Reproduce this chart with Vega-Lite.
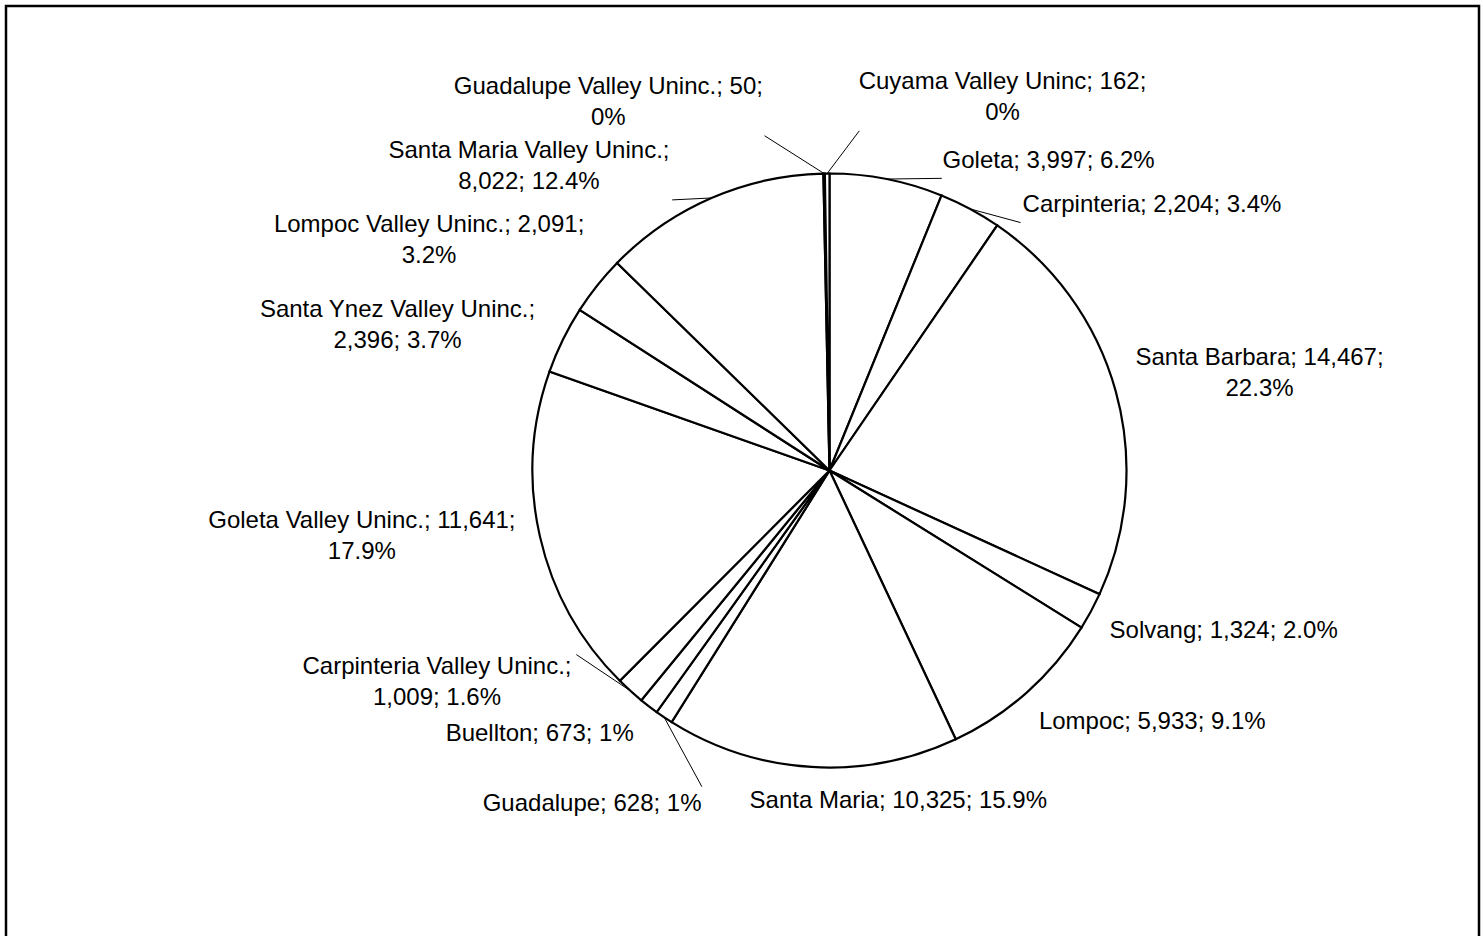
{
  "$schema": "https://vega.github.io/schema/vega-lite/v6.json",
  "autosize": "none",
  "width": 1473,
  "height": 936,
  "padding": {"left": 6, "top": 6, "right": 4, "bottom": -6},
  "background": "white",
  "config": {"view": {"stroke": "black", "strokeWidth": 2.5}},
  "data": {
    "values": [
      {"idx": 1, "name": "Goleta", "value": 3997, "label": "Goleta; 3,997; 6.2%"},
      {"idx": 2, "name": "Carpinteria", "value": 2204, "label": "Carpinteria; 2,204; 3.4%"},
      {"idx": 3, "name": "Santa Barbara", "value": 14467, "label": "Santa Barbara; 14,467;\n22.3%"},
      {"idx": 4, "name": "Solvang", "value": 1324, "label": "Solvang; 1,324; 2.0%"},
      {"idx": 5, "name": "Lompoc", "value": 5933, "label": "Lompoc; 5,933; 9.1%"},
      {"idx": 6, "name": "Santa Maria", "value": 10325, "label": "Santa Maria; 10,325; 15.9%"},
      {"idx": 7, "name": "Guadalupe", "value": 628, "label": "Guadalupe; 628; 1%"},
      {"idx": 8, "name": "Buellton", "value": 673, "label": "Buellton; 673; 1%"},
      {"idx": 9, "name": "Carpinteria Valley Uninc.", "value": 1009, "label": "Carpinteria Valley Uninc.;\n1,009; 1.6%"},
      {"idx": 10, "name": "Goleta Valley Uninc.", "value": 11641, "label": "Goleta Valley Uninc.; 11,641;\n17.9%"},
      {"idx": 11, "name": "Santa Ynez Valley Uninc.", "value": 2396, "label": "Santa Ynez Valley Uninc.;\n2,396; 3.7%"},
      {"idx": 12, "name": "Lompoc Valley Uninc.", "value": 2091, "label": "Lompoc Valley Uninc.; 2,091;\n3.2%"},
      {"idx": 13, "name": "Santa Maria Valley Uninc.", "value": 8022, "label": "Santa Maria Valley Uninc.;\n8,022; 12.4%"},
      {"idx": 14, "name": "Guadalupe Valley Uninc.", "value": 50, "label": "Guadalupe Valley Uninc.; 50;\n0%"},
      {"idx": 15, "name": "Cuyama Valley Uninc", "value": 162, "label": "Cuyama Valley Uninc; 162;\n0%"}
    ]
  },
  "transform": [
    {"window": [{"op": "sum", "field": "value", "as": "cum"}], "sort": [{"field": "idx"}], "frame": [null, 0]},
    {"joinaggregate": [{"op": "sum", "field": "value", "as": "total"}]},
    {"calculate": "(datum.cum - datum.value / 2) / datum.total * 360", "as": "mid"},
    {"calculate": "datum.value / datum.total", "as": "frac"},
    {"calculate": "datum.mid > 270 ? datum.mid - 360 : datum.mid", "as": "m"},
    {"window": [{"op": "row_number", "as": "rn"}], "sort": [{"field": "m"}]},
    {"calculate": "datum.m - 16 * datum.rn", "as": "u"},
    {"window": [{"op": "max", "field": "u", "as": "fmax"}], "sort": [{"field": "m"}], "frame": [null, 0]},
    {"window": [{"op": "min", "field": "u", "as": "bmin"}], "sort": [{"field": "m"}], "frame": [0, null]},
    {"calculate": "(datum.fmax + datum.bmin) / 2 + 16 * datum.rn", "as": "la"},
    {"calculate": "datum.frac < 0.01 ? 345 : 317", "as": "R"},
    {"calculate": "sin(datum.la * PI / 180)", "as": "sa"},
    {"calculate": "cos(datum.la * PI / 180)", "as": "ca"},
    {"calculate": "split(datum.label, '\\n')[0]", "as": "line1"},
    {"calculate": "length(split(datum.label, '\\n'))", "as": "nl"},
    {"calculate": "length(datum.line1)", "as": "n"},
    {"calculate": "datum.n - length(replace(datum.line1, regexp('[ ;,.]', 'g'), ''))", "as": "np"},
    {"calculate": "datum.n - length(replace(datum.line1, regexp('[il]', 'g'), ''))", "as": "nil"},
    {"calculate": "datum.n - length(replace(datum.line1, regexp('[rt]', 'g'), ''))", "as": "nrt"},
    {"calculate": "datum.n - length(replace(datum.line1, regexp('%', 'g'), ''))", "as": "npc"},
    {"calculate": "datum.n - length(replace(datum.line1, regexp('[A-Z]', 'g'), ''))", "as": "nup"},
    {"calculate": "24 * (0.556 * datum.n - 0.278 * datum.np - 0.334 * datum.nil - 0.24 * datum.nrt + 0.333 * datum.npc + 0.13 * datum.nup)", "as": "w"},
    {"calculate": "datum.nl * 31 - 3", "as": "h"},
    {"calculate": "datum.R * datum.sa + clamp(20 * datum.sa, -1, 1) * datum.w / 2", "as": "cx"},
    {"calculate": "datum.R * datum.ca + clamp(1.5 * datum.ca, -1, 1) * datum.h / 2 + (datum.nl - 1) * 31 / 2", "as": "cy"},
    {"calculate": "297 * sin(datum.mid * PI / 180)", "as": "ex"},
    {"calculate": "297 * cos(datum.mid * PI / 180)", "as": "ey"},
    {"calculate": "(datum.R - 4) * datum.sa", "as": "lx"},
    {"calculate": "(datum.R - 4) * datum.ca", "as": "ly"}
  ],
  "layer": [
    {
      "mark": {"type": "arc", "outerRadius": 297, "fill": "white", "stroke": "black", "strokeWidth": 2.2},
      "encoding": {
        "theta": {"field": "value", "type": "quantitative", "stack": true},
        "order": {"field": "idx", "type": "quantitative"},
        "x": {"datum": 0, "type": "quantitative", "scale": {"domain": [-823.5, 649.5], "nice": false, "zero": false}, "axis": null},
        "y": {"datum": 0, "type": "quantitative", "scale": {"domain": [-471.5, 464.5], "nice": false, "zero": false}, "axis": null}
      }
    },
    {
      "transform": [{"filter": "abs(datum.la - datum.m) > 5 || datum.frac < 0.01"}],
      "mark": {"type": "rule", "stroke": "black", "strokeWidth": 1},
      "encoding": {
        "x": {"field": "ex", "type": "quantitative", "scale": {"domain": [-823.5, 649.5], "nice": false, "zero": false}, "axis": null},
        "y": {"field": "ey", "type": "quantitative", "scale": {"domain": [-471.5, 464.5], "nice": false, "zero": false}, "axis": null},
        "x2": {"field": "lx"},
        "y2": {"field": "ly"}
      }
    },
    {
      "mark": {"type": "text", "align": "center", "baseline": "middle", "lineBreak": "\n", "font": "Liberation Sans", "fontSize": 24, "lineHeight": 31, "color": "black"},
      "encoding": {
        "x": {"field": "cx", "type": "quantitative", "scale": {"domain": [-823.5, 649.5], "nice": false, "zero": false}, "axis": null},
        "y": {"field": "cy", "type": "quantitative", "scale": {"domain": [-471.5, 464.5], "nice": false, "zero": false}, "axis": null},
        "text": {"field": "label", "type": "nominal"}
      }
    }
  ]
}
